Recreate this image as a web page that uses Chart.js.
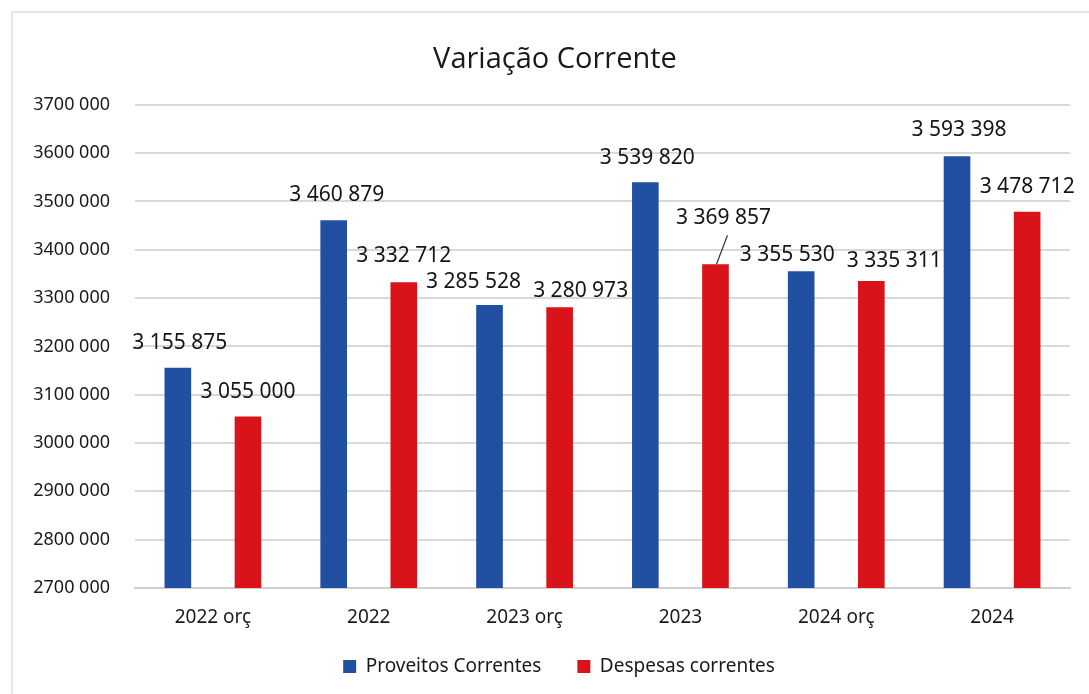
<!DOCTYPE html>
<html>
<head>
<meta charset="utf-8">
<script src="https://cdn.jsdelivr.net/npm/chart.js@4/dist/chart.umd.min.js"></script>
<style>
  html, body { margin: 0; padding: 0; background: #fff; }
  #wrap { position: relative; width: 1089px; height: 694px; }
  #frame { position: absolute; left: 11px; top: 11px; right: 0; bottom: 0; border-left: 2px solid #e6e6e6; border-top: 2px solid #e6e6e6; pointer-events: none; }
  canvas { position: absolute; left: 0; top: 0; }
</style>
</head>
<body>
<div id="wrap">
  <canvas id="c" width="1089" height="694"></canvas>
  <div id="frame"></div>
</div>
<script>
const categories = ["2022 orç", "2022", "2023 orç", "2023", "2024 orç", "2024"];
const proveitos = [3155875, 3460879, 3285528, 3539820, 3355530, 3593398];
const despesas = [3055000, 3332712, 3280973, 3369857, 3335311, 3478712];
const seriesNames = ["Proveitos Correntes", "Despesas correntes"];
const yMin = 2700000, yMax = 3700000, yStep = 100000;

// label placement offsets (style only): [dx, dy] relative to bar top centre
const labelOffsets = [
  [[2, -25], [3, -25], [-16, -23], [2, -24], [-14, -16], [2, -26]],
  [[0, -24], [0, -26], [21, -16], [8, -46], [23, -20], [0, -25]]
];
const leaderLines = [[], [3]];

function fmtNum(v) {
  return String(v).replace(/\B(?=(\d{3})+(?!\d))/g, " ");
}

const labelPlugin = {
  id: "barLabels",
  afterLayout(chart) {
    // nudge title and legend to their positions in the reference
    if (chart.legend) {
      chart.legend.left += 24; chart.legend.right += 24;
      chart.legend.top -= 8; chart.legend.bottom -= 8;
    }
    if (chart.titleBlock) {
      chart.titleBlock.left += 20; chart.titleBlock.right += 20;
    }
  },
  afterDatasetsDraw(chart) {
    const ctx = chart.ctx;
    ctx.save();
    ctx.font = "21px 'Noto Sans'";
    ctx.fillStyle = "#151515";
    ctx.textAlign = "center";
    ctx.textBaseline = "middle";
    chart.data.datasets.forEach((ds, di) => {
      const meta = chart.getDatasetMeta(di);
      meta.data.forEach((bar, i) => {
        const off = labelOffsets[di][i];
        const tx = bar.x + off[0], ty = bar.y + off[1];
        ctx.fillText(fmtNum(ds.data[i]), tx, ty);
        if (leaderLines[di].includes(i)) {
          ctx.beginPath();
          ctx.strokeStyle = "#333";
          ctx.lineWidth = 1.2;
          ctx.moveTo(tx + 4, ty + 17);
          ctx.lineTo(bar.x + 1, bar.y);
          ctx.stroke();
        }
      });
    });
    ctx.restore();
  }
};

new Chart(document.getElementById("c"), {
  type: "bar",
  data: {
    labels: categories,
    datasets: [
      { label: seriesNames[0], data: proveitos, backgroundColor: "#2150a3", categoryPercentage: 0.9, barPercentage: 0.38 },
      { label: seriesNames[1], data: despesas, backgroundColor: "#d8141a", categoryPercentage: 0.9, barPercentage: 0.38 }
    ]
  },
  options: {
    responsive: false,
    animation: false,
    layout: { padding: { top: 30, right: 19, bottom: 0, left: 0 } },
    plugins: {
      title: {
        display: true,
        text: "Variação Corrente",
        color: "#1a1a1a",
        font: { family: "'Open Sans'", size: 29, weight: "normal" },
        padding: { top: 12, bottom: 28 }
      },
      legend: {
        position: "bottom",
        labels: {
          color: "#1a1a1a",
          font: { family: "'Noto Sans'", size: 19 },
          boxWidth: 13,
          boxHeight: 13,
          padding: 36
        }
      },
      tooltip: { enabled: false }
    },
    scales: {
      x: {
        afterFit(scale) { scale.height = 41; },
        grid: { display: false, drawTicks: false },
        border: { color: "#cfcfcf", width: 2 },
        ticks: { color: "#1a1a1a", font: { family: "'Noto Sans'", size: 19 }, padding: 18 }
      },
      y: {
        min: yMin,
        max: yMax,
        afterFit(scale) { scale.width = 135; },
        border: { display: false },
        grid: { color: "#d9d9d9", lineWidth: 2, drawTicks: false },
        ticks: {
          stepSize: yStep,
          padding: 25,
          color: "#1a1a1a",
          font: { family: "'Noto Sans'", size: 18 },
          callback: v => Math.floor(v / 1000) + " 000"
        }
      }
    }
  },
  plugins: [labelPlugin]
});
</script>
</body>
</html>
